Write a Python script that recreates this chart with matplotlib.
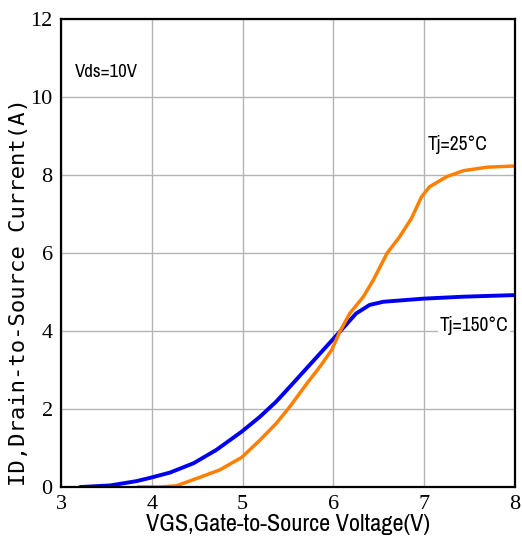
import matplotlib
matplotlib.use("Agg")
import matplotlib.pyplot as plt

vgs_150 = [3.21, 3.54, 3.83, 3.99, 4.20, 4.46, 4.71, 4.99, 5.19, 5.37, 5.52, 5.82, 6.07, 6.25, 6.40, 6.55, 6.99, 7.43, 7.98]
id_150 = [0.0, 0.04, 0.15, 0.24, 0.37, 0.61, 0.95, 1.42, 1.80, 2.19, 2.57, 3.34, 3.98, 4.45, 4.67, 4.75, 4.83, 4.88, 4.92]

vgs_25 = [3.85, 4.09, 4.27, 4.53, 4.75, 4.99, 5.19, 5.37, 5.52, 5.71, 5.85, 5.98, 6.07, 6.18, 6.33, 6.44, 6.59, 6.73, 6.86, 6.97, 7.06, 7.25, 7.43, 7.69, 7.98]
id_25 = [0.0, 0.0, 0.03, 0.25, 0.44, 0.76, 1.20, 1.63, 2.06, 2.66, 3.08, 3.51, 3.98, 4.45, 4.88, 5.31, 5.99, 6.42, 6.89, 7.44, 7.70, 7.96, 8.11, 8.20, 8.23]

x_ticks = [3, 4, 5, 6, 7, 8]
y_ticks = [0, 2, 4, 6, 8, 10, 12]

narrow = ["Archivo Narrow", "Barlow Semi Condensed", "DejaVu Sans"]
serif = ["Liberation Serif", "DejaVu Serif"]

fig = plt.figure(figsize=(5.22, 5.45), dpi=100)
ax = fig.add_axes([0.1169, 0.1064, 0.8697, 0.8587])
ax.set_xlim(3, 8)
ax.set_ylim(0, 12)
ax.set_xticks(x_ticks)
ax.set_yticks(y_ticks)
ax.grid(True, color="#b4b4b4", linewidth=1.0)
ax.set_axisbelow(True)
for s in ax.spines.values():
    s.set_linewidth(1.6)
    s.set_color("black")
ax.tick_params(length=0, pad=6)
for lab in ax.get_xticklabels() + ax.get_yticklabels():
    lab.set_family(serif)
    lab.set_fontsize(16)

ax.plot(vgs_150, id_150, color="#0000ee", linewidth=2.8, solid_capstyle="round", solid_joinstyle="round")
ax.plot(vgs_25, id_25, color="#ff8000", linewidth=2.5, solid_capstyle="round", solid_joinstyle="round")

ax.set_xlabel("VGS,Gate-to-Source Voltage(V)", family=narrow, fontsize=17.5, labelpad=0)
ax.set_ylabel("ID,Drain-to-Source Current(A)", family=["DejaVu Sans Mono"], fontsize=16, va="center")
ax.yaxis.set_label_coords(-0.0925, 0.417)

ax.text(3.15, 10.64, "Vds=10V", family=narrow, fontsize=13.5, va="center", ha="left")
ax.text(7.04, 8.77, "Tj=25°C", family=narrow, fontsize=14, va="center", ha="left")
ax.text(7.17, 4.15, "Tj=150°C", family=narrow, fontsize=14, va="center", ha="left",
        bbox=dict(facecolor="white", edgecolor="none", pad=1))

fig.savefig("out.png", dpi=100)
